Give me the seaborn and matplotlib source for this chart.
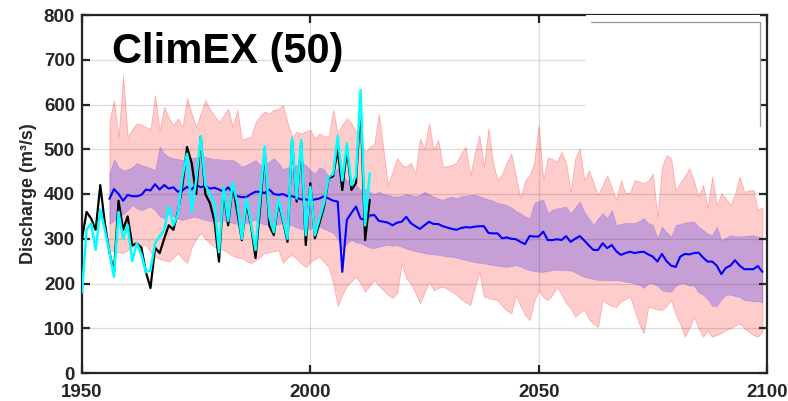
import numpy as np
import pandas as pd
import matplotlib
matplotlib.use("Agg")
import matplotlib.pyplot as plt
import seaborn as sns
from matplotlib.patches import Rectangle
from matplotlib.lines import Line2D

# ---------------- data ----------------
obs_years = list(range(1950, 2014))
obs_black = [300, 360, 345, 320, 420, 335, 270, 225, 385, 320,
             350, 285, 290, 280, 225, 190, 280, 268, 300, 330,
             320, 360, 420, 505, 470, 400, 528, 400, 380, 340,
             249, 410, 330, 420, 360, 297, 380, 330, 257, 370,
             500, 330, 308, 383, 340, 293, 520, 383, 515, 286,
             424, 301, 335, 372, 435, 440, 500, 409, 500, 409,
             424, 600, 297, 387]
obs_cyan = [180, 320, 335, 275, 365, 320, 270, 215, 360, 300,
            330, 250, 290, 265, 225, 230, 290, 305, 320, 372,
            330, 355, 440, 490, 360, 430, 528, 420, 400, 380,
            270, 416, 340, 425, 380, 300, 390, 335, 275, 390,
            506, 350, 315, 390, 345, 300, 524, 390, 521, 308,
            416, 308, 345, 380, 438, 445, 530, 430, 513, 420,
            440, 632, 330, 446]

sim_years = list(range(1956, 2100))
sim_max = [562, 610, 528, 666,
           528, 545, 558, 555, 550, 545, 621, 543, 595, 570,
           554, 569, 550, 614, 580, 550, 580, 610, 590, 575,
           561, 575, 591, 550, 588, 521, 525, 528, 560, 575,
           584, 580, 588, 590, 599, 560, 528, 539, 535, 540,
           543, 524, 535, 530, 528, 588, 536, 555, 569, 558,
           540, 521, 494, 505, 513, 580, 500, 420, 450, 480,
           465, 461, 470, 446, 524, 502, 558, 500, 521, 461,
           462, 465, 470, 490, 506, 442, 490, 532, 461, 547,
           470, 431, 445, 470, 491, 440, 391, 430, 442, 469,
           554, 431, 482, 478, 472, 494, 470, 405, 480, 502,
           431, 453, 425, 398, 420, 442, 415, 387, 431, 402,
           402, 431, 428, 424, 430, 446, 349, 461, 487, 480,
           409, 425, 440, 458, 430, 394, 420, 369, 439, 375,
           402, 390, 375, 400, 439, 405, 408, 409, 364, 370]
sim_q75 = [446, 478, 460, 453,
           455, 460, 469, 465, 461, 458, 453, 506, 490, 483,
           480, 478, 476, 478, 480, 482, 484, 483, 480, 478,
           478, 476, 476, 476, 470, 461, 465, 470, 476, 465,
           468, 472, 480, 470, 455, 460, 457, 465, 469, 465,
           453, 446, 460, 455, 438, 446, 458, 440, 431, 425,
           420, 409, 412, 405, 400, 405, 400, 398, 395, 394,
           396, 400, 398, 395, 398, 405, 400, 394, 390, 387,
           392, 394, 390, 395, 396, 398, 398, 395, 391, 388,
           385, 380, 378, 375, 370, 362, 357, 350, 346, 380,
           385, 387, 357, 365, 368, 370, 372, 357, 370, 383,
           360, 345, 331, 345, 357, 346, 364, 331, 333, 335,
           335, 335, 340, 346, 335, 331, 301, 327, 315, 305,
           331, 333, 336, 338, 338, 327, 320, 312, 308, 327,
           297, 302, 308, 306, 305, 306, 307, 308, 305, 301]
sim_q50 = [389, 411, 400, 385,
           398, 395, 395, 398, 410, 408, 422, 410, 420, 412,
           415, 405, 408, 416, 410, 420, 415, 418, 412, 414,
           410, 405, 415, 402, 395, 393, 393, 400, 405, 405,
           402, 410, 400, 398, 400, 395, 395, 392, 388, 388,
           385, 388, 390, 395, 390, 385, 383, 226, 342, 358,
           372, 345, 342, 352, 353, 340, 338, 336, 330, 336,
           338, 349, 335, 328, 322, 330, 338, 333, 333, 328,
           325, 322, 320, 324, 326, 325, 327, 328, 328, 313,
           312, 312, 301, 303, 300, 299, 293, 288, 306, 305,
           305, 316, 297, 297, 299, 297, 306, 293, 300, 306,
           296, 285, 275, 275, 290, 279, 286, 272, 264, 268,
           271, 268, 270, 271, 265, 260, 249, 266, 250, 240,
           237, 260, 266, 265, 268, 269, 258, 249, 249, 240,
           221, 235, 240, 252, 240, 232, 232, 232, 239, 226]
sim_q25 = [334, 340, 349, 355,
           364, 375, 368, 364, 368, 372, 364, 350, 346, 355,
           350, 345, 342, 345, 348, 349, 345, 342, 340, 338,
           340, 342, 338, 335, 333, 331, 335, 340, 342, 336,
           331, 335, 330, 333, 335, 333, 330, 325, 322, 320,
           322, 325, 327, 322, 318, 313, 300, 275, 290, 297,
           292, 290, 285, 280, 279, 282, 285, 286, 284, 286,
           282, 278, 275, 272, 270, 268, 266, 265, 264, 262,
           260, 260, 258, 255, 253, 250, 248, 246, 245, 243,
           241, 240, 238, 237, 239, 241, 238, 233, 230, 228,
           226, 226, 228, 230, 231, 230, 230, 229, 225, 219,
           215, 212, 210, 208, 208, 208, 207, 208, 206, 204,
           203, 200, 197, 190, 200, 200, 195, 185, 182, 182,
           195, 200, 200, 195, 195, 180, 175, 165, 150, 150,
           165, 175, 175, 172, 170, 163, 162, 160, 160, 158]
sim_min = [275, 272, 270, 268,
           275, 282, 284, 285, 286, 270, 260, 255, 252, 249,
           258, 268, 255, 246, 280, 300, 313, 300, 290, 282,
           278, 275, 268, 262, 258, 257, 250, 246, 252, 260,
           268, 270, 272, 275, 246, 258, 264, 255, 245, 237,
           248, 255, 260, 248, 237, 200, 150, 175, 195, 205,
           215, 200, 182, 195, 208, 195, 185, 175, 168, 179,
           245, 212, 200, 180, 156, 180, 204, 185, 190, 193,
           188, 182, 175, 165, 158, 152, 190, 226, 171, 168,
           165, 163, 150, 140, 133, 174, 150, 130, 118, 160,
           185, 170, 163, 175, 193, 175, 156, 145, 126, 135,
           141, 120, 110, 103, 163, 155, 150, 148, 160, 165,
           171, 140, 110, 89, 148, 145, 142, 141, 150, 163,
           130, 110, 81, 100, 126, 100, 81, 95, 81, 85,
           90, 96, 100, 106, 111, 100, 92, 85, 81, 92]

x_ticks = [1950, 2000, 2050, 2100]
y_ticks = list(range(0, 801, 100))
title_text = "ClimEX (50)"
ylabel_text = "Discharge (m³/s)"

obs = pd.DataFrame({"year": obs_years, "black": obs_black, "cyan": obs_cyan})
sim = pd.DataFrame({"year": sim_years, "mn": sim_min, "q25": sim_q25,
                    "q50": sim_q50, "q75": sim_q75, "mx": sim_max})

# ---------------- style ----------------
sns.set_theme(style="white")
plt.rcParams["font.family"] = ["Liberation Sans", "DejaVu Sans"]
plt.rcParams["font.weight"] = "bold"

fig = plt.figure(figsize=(7.88, 4.01), dpi=100)
ax = fig.add_axes([82 / 788, 1 - 373 / 401, (767 - 82) / 788, (373 - 15) / 401])

# bands
ax.fill_between(sim["year"], sim["mn"], sim["mx"], facecolor=(1, 0, 0, 0.2),
                edgecolor=(1, 0, 0, 0.25), lw=0.6, zorder=1)
ax.fill_between(sim["year"], sim["q25"], sim["q75"], facecolor=(0, 0, 1, 0.22),
                edgecolor=(0, 0, 1, 0.15), lw=0.6, zorder=1.2)

# lines
sns.lineplot(data=sim, x="year", y="q50", ax=ax, color="#0000ff", lw=1.5, zorder=3)
sns.lineplot(data=obs, x="year", y="black", ax=ax, color="black", lw=1.6, zorder=3.1)
sns.lineplot(data=obs, x="year", y="cyan", ax=ax, color="#00ffff", lw=1.8, zorder=3.2)

ax.set_xlim(1950, 2100)
ax.set_ylim(0, 800)
ax.set_xticks(x_ticks)
ax.set_yticks(y_ticks)
ax.set_xticklabels([str(t) for t in x_ticks])
ax.set_yticklabels([str(t) for t in y_ticks])

ax.set_axisbelow(False)
ax.grid(True, color="#000000", alpha=0.13, lw=1.0, zorder=2.5)

for s in ax.spines.values():
    s.set_color("#262626")
    s.set_linewidth(1.6)
    s.set_visible(True)

ax.tick_params(axis="both", direction="in", length=6, width=1.6, color="#262626",
               top=True, right=True, bottom=True, left=True,
               labelsize=13.5, labelcolor="#262626")
ax.tick_params(axis="x", pad=8)
ax.tick_params(axis="y", pad=5)
for lab in ax.get_xticklabels() + ax.get_yticklabels():
    lab.set_fontweight("bold")

ax.set_xlabel("")
ax.set_ylabel(ylabel_text, fontsize=13, fontweight="bold", color="#262626", labelpad=5)

# title text inside axes
ax.text(0.044, 0.865, title_text, transform=ax.transAxes, fontsize=30,
        fontweight="bold", color="black", ha="left", va="baseline", zorder=6)

# empty legend box (upper right)
x0 = (586 - 82) / 685
x1 = (760 - 82) / 685
y0 = (373 - 126) / 358
y1 = (373 - 22) / 358
ax.add_patch(Rectangle((x0, y0), x1 - x0, 1 - y0, transform=ax.transAxes,
                       facecolor="white", edgecolor="none", zorder=4))
ax.add_line(Line2D([x0 + 0.008, x1], [y1, y1], transform=ax.transAxes,
                   color="#9a9a9a", lw=0.9, zorder=5))
ax.add_line(Line2D([x1, x1], [y1, y0], transform=ax.transAxes,
                   color="#9a9a9a", lw=0.9, zorder=5))

fig.savefig("out.png", dpi=100)
